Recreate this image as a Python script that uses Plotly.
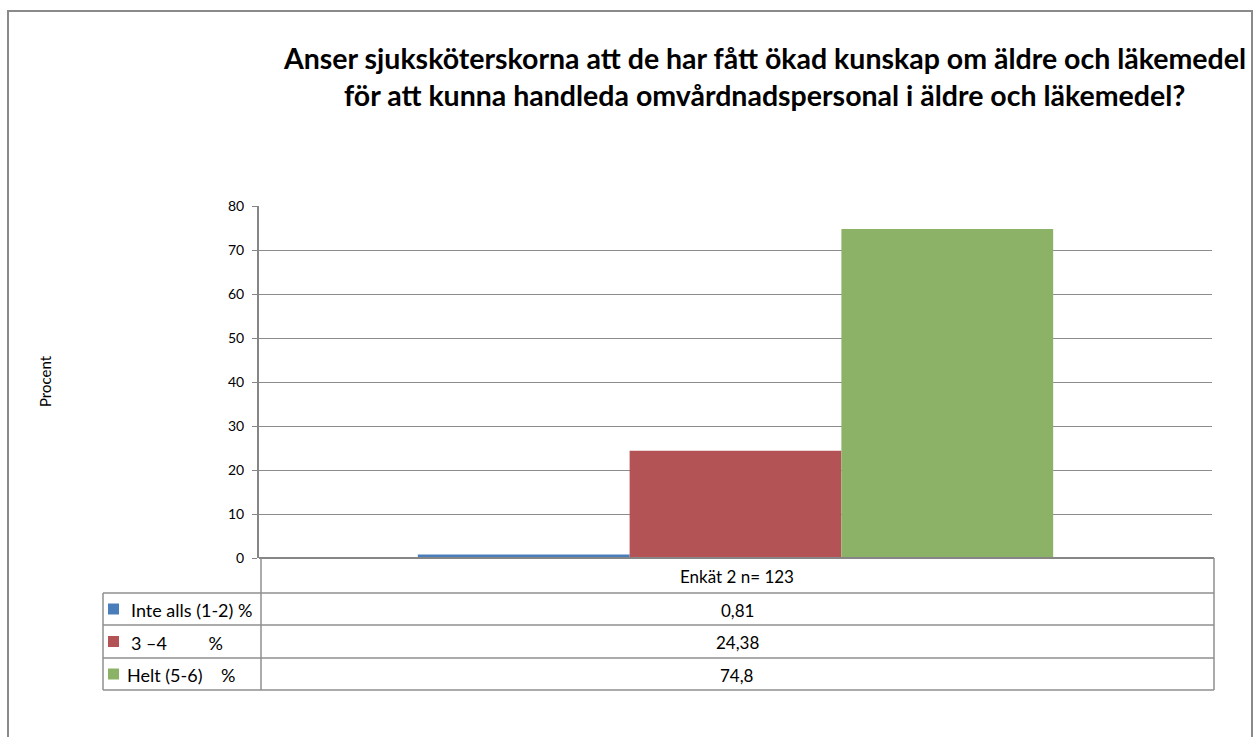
import plotly.graph_objects as go

W, H = 1254, 737
categories = ["Enkät 2 n= 123"]
series_names = ["Inte alls (1-2) %", "3 \u20134\u00a0\u00a0\u00a0\u00a0\u00a0\u00a0\u00a0\u00a0\u00a0%", "Helt (5-6)\u00a0\u00a0\u00a0\u00a0%"]
series_values = [0.81, 24.38, 74.8]
value_labels = ["0,81", "24,38", "74,8"]
colors = ["#4A7EBB", "#B45355", "#8CB268"]
y_ticks = [0, 10, 20, 30, 40, 50, 60, 70, 80]
title_lines = ["Anser sjuksköterskorna att de har fått ökad kunskap om äldre och läkemedel",
               "för att kunna handleda omvårdnadspersonal i äldre och läkemedel?"]

def px(x):
    return x / W

def py(y):
    return 1 - y / H

FONT = "Lato"
GRID = "#8C8C8C"
AX = "#868686"
TS = 17

fig = go.Figure()
for name, v, c in zip(series_names, series_values, colors):
    fig.add_trace(go.Bar(x=categories, y=[v], name=name, marker=dict(color=c, line=dict(width=0)),
                         showlegend=False, hoverinfo="skip"))

x0, x1 = 259, 1212
ytop, ybot = 206, 558
fig.update_layout(
    width=W, height=H, autosize=False, margin=dict(l=0, r=0, t=0, b=0, autoexpand=False),
    paper_bgcolor="white", plot_bgcolor="white",
    barmode="group", bargap=1.5 / 4.5, bargroupgap=0, showlegend=False,
    font=dict(family=FONT, color="black"),
    xaxis=dict(domain=[px(x0), px(x1)], showticklabels=False, showgrid=False, zeroline=False,
               showline=False, ticks="", automargin=False),
    yaxis=dict(domain=[py(ybot), py(ytop)], range=[0, 80], tickvals=y_ticks, showgrid=True,
               gridcolor=GRID, gridwidth=1, zeroline=False, showline=True, linecolor=AX, linewidth=2,
               ticks="outside", ticklen=5, tickcolor=AX, tickfont=dict(size=14, family=FONT),
               ticklabelstandoff=5, automargin=False),
)

shapes = []
# outer border
shapes.append(dict(type="rect", xref="paper", yref="paper", x0=px(8), x1=px(1252), y0=py(745), y1=py(11),
                   line=dict(color="#8A8A8A", width=2), fillcolor="rgba(0,0,0,0)", layer="above"))
# x axis line (bottom)
shapes.append(dict(type="line", xref="paper", yref="paper", x0=px(x0), x1=px(1214), y0=py(ybot), y1=py(ybot),
                   line=dict(color=AX, width=2), layer="above"))

# data table
tab_left, tab_mid, tab_right = 103, 261, 1214
rows = [558, 593, 625, 658, 690]
LC = "#8F8F8F"
shapes.append(dict(type="line", xref="paper", yref="paper", x0=px(tab_mid), x1=px(tab_mid), y0=py(rows[0]), y1=py(rows[-1]),
                   line=dict(color=LC, width=1.5)))
shapes.append(dict(type="line", xref="paper", yref="paper", x0=px(tab_right), x1=px(tab_right), y0=py(rows[0]), y1=py(rows[-1]),
                   line=dict(color=LC, width=1.5)))
shapes.append(dict(type="line", xref="paper", yref="paper", x0=px(tab_left), x1=px(tab_left), y0=py(rows[1]), y1=py(rows[-1]),
                   line=dict(color=LC, width=1.5)))
for r in rows[1:]:
    shapes.append(dict(type="line", xref="paper", yref="paper", x0=px(tab_left), x1=px(tab_right), y0=py(r), y1=py(r),
                       line=dict(color=LC, width=1.5)))

annotations = []
annotations.append(dict(text=categories[0], xref="paper", yref="paper", x=px((tab_mid + tab_right) / 2),
                        y=py((rows[0] + rows[1]) / 2 + 1), showarrow=False, font=dict(size=TS, family=FONT),
                        xanchor="center", yanchor="middle"))
for i, (name, lab, c) in enumerate(zip(series_names, value_labels, colors)):
    cy = (rows[i + 1] + rows[i + 2]) / 2
    shapes.append(dict(type="rect", xref="paper", yref="paper", x0=px(108), x1=px(119), y0=py(cy + 5.5), y1=py(cy - 5.5),
                       fillcolor=c, line=dict(width=0)))
    annotations.append(dict(text=name, xref="paper", yref="paper", x=px(129 if i < 2 else 125), y=py(cy + 1),
                            showarrow=False, font=dict(size=18, family=FONT), xanchor="left", yanchor="middle"))
    annotations.append(dict(text=lab, xref="paper", yref="paper", x=px((tab_mid + tab_right) / 2), y=py(cy + 1),
                            showarrow=False, font=dict(size=TS, family=FONT), xanchor="center", yanchor="middle"))

for j, t in enumerate(title_lines):
    annotations.append(dict(text="<b>" + t + "</b>", xref="paper", yref="paper", x=px(764), y=py(58 + 37 * j),
                            showarrow=False, font=dict(size=28.5, family=FONT), xanchor="center", yanchor="middle"))
annotations.append(dict(text="Procent", xref="paper", yref="paper", x=px(45), y=py(381), textangle=-90,
                        showarrow=False, font=dict(size=15, family=FONT), xanchor="center", yanchor="middle"))

fig.update_layout(shapes=shapes, annotations=annotations)

post = ("document.documentElement.style.margin='0';document.body.style.margin='0';"
        "document.body.style.padding='0';document.body.style.overflow='hidden';"
        "var gd=document.getElementById('{plot_id}');gd.style.width='1254px';gd.style.height='737px';"
        "Plotly.relayout(gd,{width:1254,height:737,autosize:false});")
fig.write_html("out.html", config={"responsive": False, "displayModeBar": False}, post_script=post)
